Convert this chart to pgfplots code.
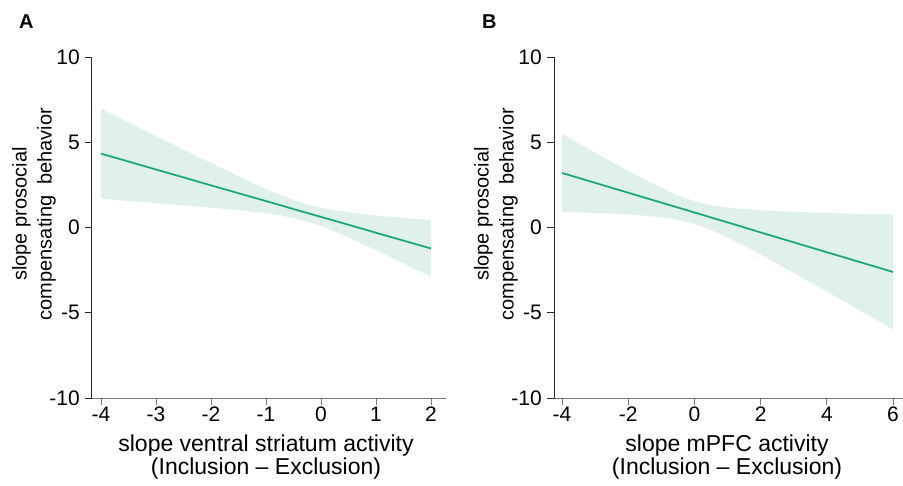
\documentclass[border=0pt]{standalone}
\usepackage{fontspec}
\setmainfont{Liberation Sans}
\usepackage{pgfplots}
\usepackage{pgfplotstable}
\pgfplotsset{compat=1.18}
\usepgfplotslibrary{fillbetween}
\definecolor{lineg}{RGB}{32,168,122}
\definecolor{bandg}{RGB}{223,241,234}
\definecolor{yax}{RGB}{40,40,40}
\definecolor{xax}{RGB}{120,120,120}

\pgfplotstableread{
x     y      u     l
-4    4.33   6.98  1.68
-3.5  3.87   6.17  1.56
-3    3.40   5.37  1.43
-2.5  2.94   4.57  1.30
-2    2.47   3.78  1.16
-1.5  2.01   3.00  1.02
-1.25 1.78   2.63  0.93
-1    1.55   2.26  0.84
-0.75 1.32   1.92  0.71
-0.5  1.08   1.61  0.55
-0.25 0.85   1.35  0.35
0     0.62   1.15  0.09
0.25  0.39   1.01  -0.23
0.5   0.16   0.89  -0.57
1     -0.31  0.71  -1.33
1.5   -0.77  0.56  -2.10
2     -1.23  0.43  -2.89
}\dataA

\pgfplotstableread{
x     y      u     l
-4    3.20   5.49  0.91
-3.5  2.91   4.94  0.88
-3    2.62   4.39  0.85
-2.5  2.33   3.85  0.81
-2    2.04   3.32  0.76
-1.5  1.75   2.80  0.69
-1    1.46   2.32  0.60
-0.5  1.17   1.89  0.45
0     0.88   1.55  0.21
0.5   0.59   1.31  -0.14
1     0.30   1.17  -0.58
1.5   0.01   1.08  -1.07
2     -0.29  1.01  -1.58
2.5   -0.58  0.96  -2.12
3     -0.87  0.92  -2.66
3.5   -1.16  0.89  -3.21
4     -1.45  0.86  -3.76
4.5   -1.74  0.83  -4.31
5     -2.03  0.81  -4.87
5.5   -2.32  0.79  -5.43
6     -2.61  0.77  -5.99
}\dataB

\pgfplotsset{
  myax/.style={
    scale only axis,
    height=341pt,
    ymin=-10, ymax=10,
    axis x line=bottom, axis y line=left,
    x axis line style={-, draw=xax, line width=1pt},
    y axis line style={-, draw=yax, line width=1pt},
    tick align=outside,
    major tick length=7pt,
    xtick style={draw=xax, line width=0.9pt},
    ytick style={draw=yax, line width=0.9pt},
    ytick={-10,-5,0,5,10},
    yticklabels={-10,-5,0,5,10},
    tick label style={font=\fontsize{21}{23}\selectfont},
    xticklabel style={inner sep=1pt, yshift=-1pt},
    yticklabel style={inner sep=1pt, xshift=-4pt},
    clip=true,
  }
}

\begin{document}
\begin{tikzpicture}

\begin{axis}[myax, at={(0pt,0pt)}, anchor=south west,
  width=354pt, xmin=-4.164, xmax=2.273,
  xtick={-4,-3,-2,-1,0,1,2},
  xticklabels={-4,-3,-2,-1,0,1,2}]
  \addplot[name path=uA, draw=none, forget plot] table[x=x,y=u] {\dataA};
  \addplot[name path=lA, draw=none, forget plot] table[x=x,y=l] {\dataA};
  \addplot[fill=bandg, draw=none] fill between[of=uA and lA];
  \addplot[lineg, line width=1.8pt, no marks] table[x=x,y=y] {\dataA};
\end{axis}

\begin{axis}[myax, at={(462pt,0pt)}, anchor=south west,
  width=349pt, xmin=-4.242, xmax=6.30,
  xtick={-4,-2,0,2,4,6},
  xticklabels={-4,-2,0,2,4,6}]
  \addplot[name path=uB, draw=none, forget plot] table[x=x,y=u] {\dataB};
  \addplot[name path=lB, draw=none, forget plot] table[x=x,y=l] {\dataB};
  \addplot[fill=bandg, draw=none] fill between[of=uB and lB];
  \addplot[lineg, line width=1.8pt, no marks] table[x=x,y=y] {\dataB};
\end{axis}

% panel letters
\node[anchor=base west, inner sep=0, font=\fontsize{20}{22}\selectfont\bfseries] at (-73pt,369pt) {A};
\node[anchor=base west, inner sep=0, font=\fontsize{20}{22}\selectfont\bfseries] at (390pt,369pt) {B};

% y labels
\node[rotate=90, anchor=south, inner sep=0, align=center, font=\fontsize{20}{25}\selectfont] at (-36pt,184pt) {slope prosocial\\compensating\ \ behavior};
\node[rotate=90, anchor=south, inner sep=0, align=center, font=\fontsize{20}{25}\selectfont] at (426pt,184pt) {slope prosocial\\compensating\ \ behavior};

% x labels
\node[anchor=north, inner sep=0, align=center, font=\fontsize{23}{22.5}\selectfont] at (174pt,-37pt) {slope ventral striatum activity\\(Inclusion – Exclusion)};
\node[anchor=north, inner sep=0, align=center, font=\fontsize{23}{22.5}\selectfont] at (635pt,-37pt) {slope mPFC activity\\(Inclusion – Exclusion)};

\pgfresetboundingbox
\useasboundingbox (-92pt,-87pt) rectangle (811pt,398pt);
\end{tikzpicture}
\end{document}
